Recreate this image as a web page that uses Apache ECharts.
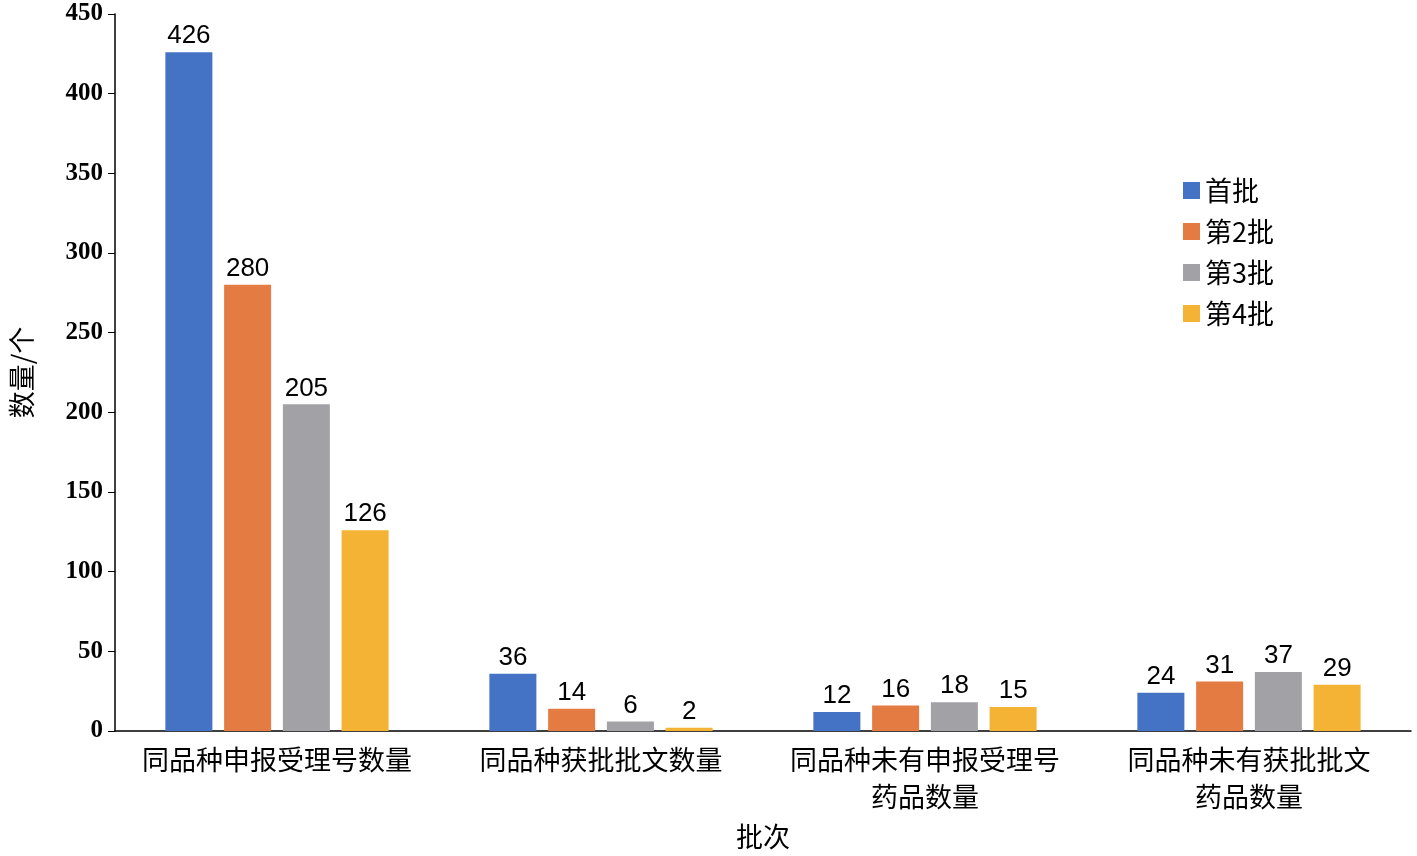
<!DOCTYPE html>
<html><head><meta charset="utf-8">
<script src="https://cdn.jsdelivr.net/npm/echarts@6/dist/echarts.min.js"></script>
<style>html,body{margin:0;padding:0;background:#fff}#c{width:1417px;height:856px}</style>
</head><body><div id="c"></div>
<script>
const categories = ['同品种申报受理号数量','同品种获批批文数量','同品种未有申报受理号\n药品数量','同品种未有获批批文\n药品数量'];
const seriesNames = ['首批','第2批','第3批','第4批'];
const s1 = [426, 36, 12, 24];
const s2 = [280, 14, 16, 31];
const s3 = [205, 6, 18, 37];
const s4 = [126, 2, 15, 29];
const colors = ['#4472C4','#E47B43','#A2A2A6','#F5B335'];
const data = [s1,s2,s3,s4];
const chart = echarts.init(document.getElementById('c'));
chart.setOption({
  animation:false,
  grid:{left:113,right:6,top:14,bottom:125},
  legend:{orient:'vertical',left:1178,top:172,itemWidth:17,itemHeight:17,itemGap:14,
    textStyle:{fontSize:27,color:'#000',fontFamily:'Noto Sans CJK SC'},
    data:seriesNames.map((n,i)=>({name:n,icon:'rect',itemStyle:{color:colors[i]}}))},
  xAxis:{type:'category',data:categories,name:'批次',nameLocation:'middle',nameGap:92,
    nameTextStyle:{fontSize:27,color:'#000',fontFamily:'Noto Sans CJK SC'},
    axisLine:{lineStyle:{color:'#000',width:1.5}},axisTick:{show:false},
    axisLabel:{interval:0,fontSize:27,color:'#000',fontFamily:'Noto Sans CJK SC',lineHeight:37,margin:10}},
  yAxis:{type:'value',min:0,max:450,interval:50,name:'数量/个',nameLocation:'middle',nameGap:80,
    nameTextStyle:{fontSize:27,color:'#000',fontFamily:'Noto Sans CJK SC'},
    axisLine:{show:true,lineStyle:{color:'#000',width:1.5}},axisTick:{show:true,length:7,lineStyle:{color:'#000'}},
    splitLine:{show:false},
    axisLabel:{fontSize:25,fontWeight:'bold',color:'#000',fontFamily:'Liberation Serif',margin:12}},
  series:data.map((d,i)=>({name:seriesNames[i],type:'bar',data:d,barWidth:47,barGap:'25%',
    itemStyle:{color:colors[i]},
    label:{show:true,position:'top',fontSize:26,color:'#000',fontFamily:'Liberation Sans',distance:3}}))
});
</script></body></html>
